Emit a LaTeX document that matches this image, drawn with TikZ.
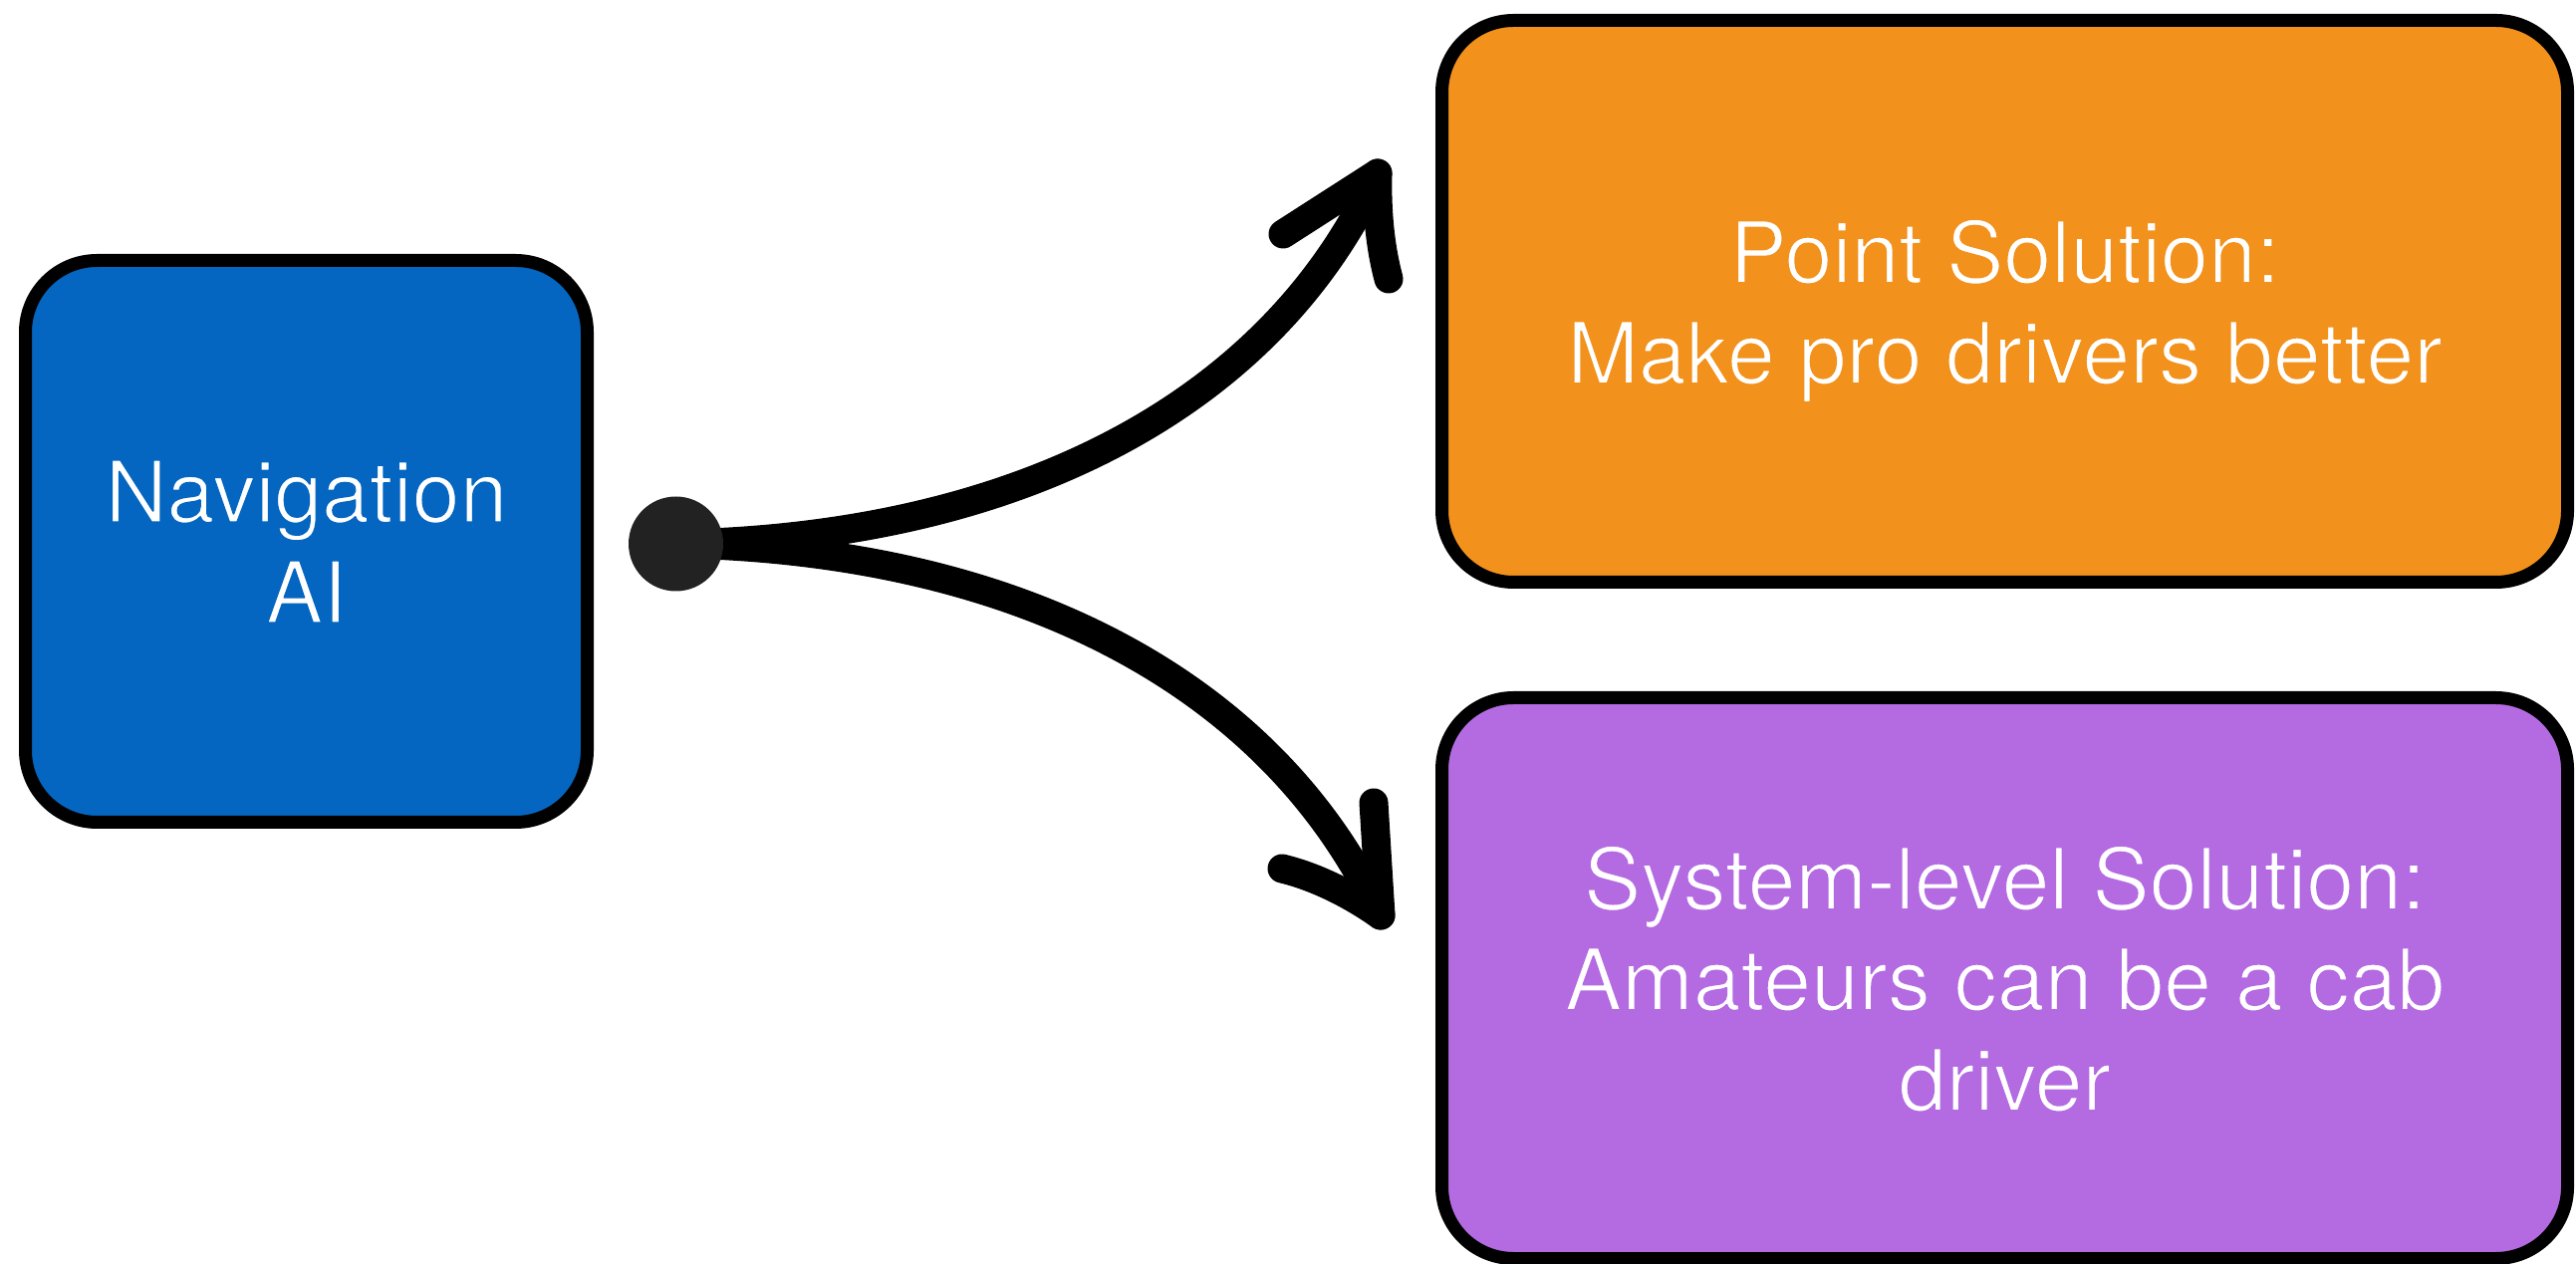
\documentclass[tikz,border=0pt]{standalone}
\usepackage{fontspec}
\setmainfont{TeX Gyre Heros}
\definecolor{navblue}{HTML}{0466C0}
\definecolor{ptorange}{HTML}{F2911B}
\definecolor{syspurple}{HTML}{B46BE2}
\definecolor{dotgray}{HTML}{222222}
% thin the glyphs a little by stroking them in the box colour (light weight look)
\newcommand\thintext[2]{\special{pdf:literal direct 1 j #2 RG 0.45 w 2 Tr}#1\special{pdf:literal direct 0 Tr}}
\begin{document}
\begin{tikzpicture}[x=0.25pt,y=-0.25pt,
  box/.style={draw=black, line width=3.25pt, rounded corners=18pt, inner sep=0pt,
    text=white, align=center, font=\fontsize{21.5}{25.25}\selectfont, text depth=0pt},
  conn/.style={draw=black, line width=7.25pt, line cap=round, line join=round},
  hubdot/.style={circle, fill=dotgray, minimum size=23.75pt, inner sep=0pt}]
\useasboundingbox (0,0) rectangle (2586,1269);
\fill[white] (0,0) rectangle (2586,1269);

\node[box, fill=navblue, minimum width=141pt, minimum height=141pt] (nav) at (307.5,543.5)
  {\thintext{Navigation\\AI}{0.016 0.4 0.753}};
\node[box, fill=ptorange, minimum width=282.5pt, minimum height=141pt] (point) at (2012.5,302.5)
  {\thintext{Point Solution:\\Make pro drivers better}{0.949 0.569 0.106}};
\node[box, fill=syspurple, minimum width=282.5pt, minimum height=140.75pt] (sys) at (2012.5,982)
  {\thintext{System-level Solution:\\Amateurs can be a cab\\driver}{0.706 0.420 0.886}};

\coordinate (hubc) at (678.5,546);
\coordinate (t1) at (1383,174);
\coordinate (ua1) at (1288,235);
\coordinate (ua2) at (1394,280);
\coordinate (t2) at (1386,919);
\coordinate (la1) at (1379,806);
\coordinate (la2) at (1287,872);

\draw[conn] (hubc) .. controls (1030,540) and (1280,400) .. (t1);
\draw[conn] (hubc) .. controls (1030,552) and (1280,692) .. (t2);
\draw[conn] (ua1) -- (t1) .. controls (1382,215) and (1386,250) .. (ua2);
\draw[conn] (la1) -- (t2) .. controls (1355,897) and (1320,880) .. (la2);

\node[hubdot] (hub) at (hubc) {};
\end{tikzpicture}
\end{document}
